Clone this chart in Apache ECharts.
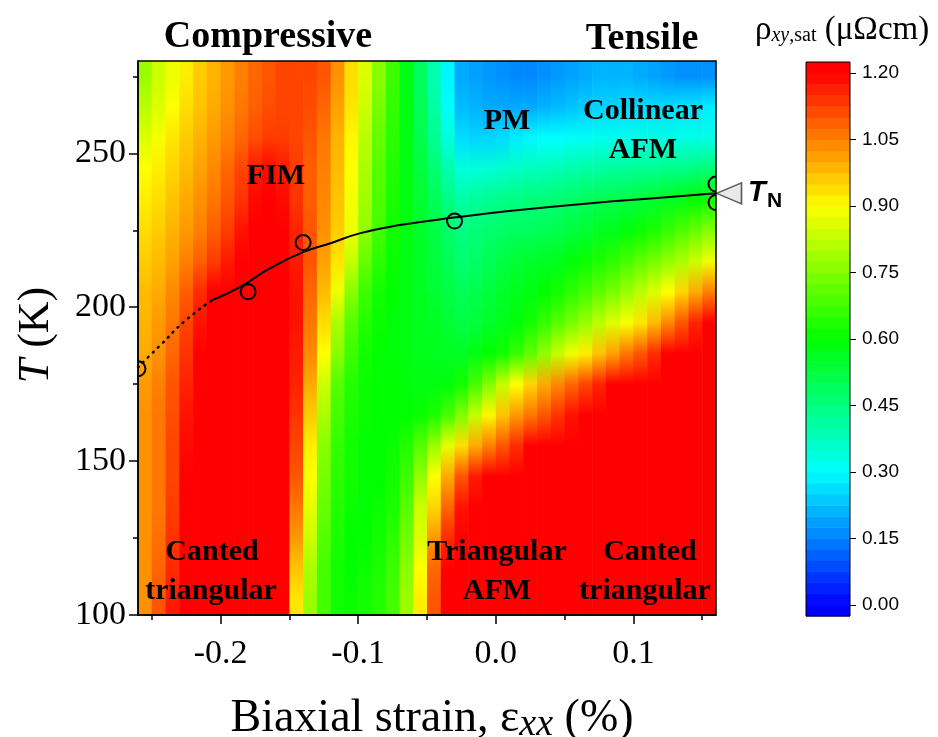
<!DOCTYPE html>
<html>
<head>
<meta charset="utf-8">
<script src="https://cdn.jsdelivr.net/npm/echarts@6/dist/echarts.min.js"></script>
<style>
html, body { margin: 0; padding: 0; background: #fff; }
#chart { width: 938px; height: 737px; }
</style>
</head>
<body>
<div id="chart"></div>
<script>
// grid of the map: column centres (strain, %) and row centres (T, K)
var strains = [-0.255,-0.245,-0.235,-0.225,-0.215,-0.205,-0.195,-0.185,-0.175,-0.165,
               -0.155,-0.145,-0.135,-0.125,-0.115,-0.105,-0.095,-0.085,-0.075,-0.065,
               -0.055,-0.045,-0.035,-0.025,-0.015,-0.005,0.005,0.015,0.025,0.035,
               0.045,0.055,0.065,0.075,0.085,0.095,0.105,0.115,0.125,0.135,
               0.145,0.155];
var temps = [105,115,125,135,145,155,165,175,185,195,205,215,225,235,245,255,265,275];

// rho_xy,sat (uOhm cm), one row per temperature, bottom to top
var rhoRows = [
  // 105 K
  [1.03,1.10,1.17,1.22,1.25,1.25,1.25,1.25,1.25,1.25, 1.20,0.93,0.78,0.68,0.62,0.61,0.62,0.64,0.68,0.78,
   0.92,1.10,1.22,1.25,1.25,1.25,1.25,1.25,1.25,1.25, 1.25,1.25,1.25,1.25,1.25,1.25,1.25,1.25,1.25,1.25, 1.25,1.25],
  // 115 K
  [1.03,1.08,1.15,1.21,1.25,1.25,1.25,1.25,1.25,1.25, 1.20,0.97,0.80,0.68,0.62,0.60,0.61,0.63,0.67,0.76,
   0.90,1.08,1.20,1.25,1.25,1.25,1.25,1.25,1.25,1.25, 1.25,1.25,1.25,1.25,1.25,1.25,1.25,1.25,1.25,1.25, 1.25,1.25],
  // 125 K
  [1.03,1.07,1.14,1.20,1.25,1.25,1.25,1.25,1.25,1.25, 1.22,1.02,0.84,0.70,0.63,0.60,0.60,0.62,0.65,0.73,
   0.86,1.02,1.15,1.22,1.25,1.25,1.25,1.25,1.25,1.25, 1.25,1.25,1.25,1.25,1.25,1.25,1.25,1.25,1.25,1.25, 1.25,1.25],
  // 135 K
  [1.03,1.06,1.13,1.20,1.25,1.25,1.25,1.25,1.25,1.25, 1.23,1.06,0.87,0.72,0.64,0.61,0.60,0.61,0.63,0.70,
   0.84,0.95,1.08,1.18,1.23,1.25,1.25,1.25,1.25,1.25, 1.25,1.25,1.25,1.25,1.25,1.25,1.25,1.25,1.25,1.25, 1.25,1.25],
  // 145 K
  [1.03,1.06,1.12,1.20,1.25,1.25,1.25,1.25,1.25,1.25, 1.24,1.10,0.90,0.74,0.65,0.62,0.60,0.60,0.62,0.67,
   0.77,0.90,1.00,1.10,1.17,1.22,1.25,1.25,1.25,1.25, 1.25,1.25,1.25,1.25,1.25,1.25,1.25,1.25,1.25,1.25, 1.25,1.25],
  // 155 K
  [1.03,1.06,1.12,1.19,1.24,1.25,1.25,1.25,1.25,1.25, 1.24,1.12,0.92,0.76,0.66,0.62,0.60,0.60,0.61,0.64,
   0.70,0.78,0.87,0.94,1.00,1.05,1.10,1.15,1.20,1.25, 1.25,1.25,1.25,1.25,1.25,1.25,1.25,1.25,1.25,1.25, 1.25,1.25],
  // 165 K
  [1.03,1.06,1.11,1.18,1.23,1.25,1.25,1.25,1.25,1.25, 1.24,1.14,0.96,0.80,0.68,0.63,0.61,0.60,0.60,0.60,
   0.61,0.63,0.68,0.75,0.83,0.91,0.97,1.02,1.06,1.10, 1.14,1.18,1.22,1.25,1.25,1.25,1.25,1.25,1.25,1.25, 1.25,1.25],
  // 175 K
  [1.02,1.05,1.10,1.16,1.22,1.25,1.25,1.25,1.25,1.25, 1.24,1.16,1.00,0.84,0.70,0.64,0.61,0.60,0.60,0.59,
   0.58,0.58,0.59,0.62,0.68,0.75,0.83,0.90,0.95,1.00, 1.04,1.08,1.12,1.16,1.20,1.23,1.25,1.25,1.25,1.25, 1.25,1.25],
  // 185 K
  [1.00,1.03,1.08,1.14,1.20,1.25,1.25,1.25,1.25,1.25, 1.24,1.17,1.04,0.90,0.76,0.67,0.62,0.60,0.59,0.58,
   0.57,0.57,0.56,0.56,0.58,0.60,0.62,0.66,0.71,0.77, 0.83,0.88,0.92,0.97,1.01,1.06,1.10,1.15,1.20,1.25, 1.25,1.25],
  // 195 K
  [0.99,1.02,1.06,1.12,1.18,1.23,1.25,1.25,1.25,1.25, 1.24,1.18,1.06,0.94,0.80,0.70,0.64,0.61,0.59,0.58,
   0.57,0.56,0.54,0.52,0.53,0.55,0.57,0.59,0.62,0.66, 0.70,0.74,0.78,0.82,0.86,0.89,0.93,0.98,1.04,1.10, 1.16,1.21],
  // 205 K
  [0.98,1.00,1.04,1.09,1.15,1.20,1.23,1.25,1.25,1.25, 1.25,1.18,1.08,0.98,0.88,0.76,0.67,0.62,0.60,0.58,
   0.56,0.54,0.52,0.50,0.51,0.53,0.55,0.57,0.58,0.60, 0.62,0.65,0.68,0.71,0.74,0.78,0.82,0.86,0.90,0.95, 1.00,1.05],
  // 215 K
  [0.96,0.98,1.01,1.05,1.09,1.13,1.17,1.21,1.24,1.25, 1.23,1.17,1.10,1.01,0.93,0.83,0.72,0.65,0.61,0.58,
   0.56,0.53,0.50,0.47,0.48,0.50,0.52,0.54,0.55,0.56, 0.57,0.59,0.61,0.63,0.65,0.68,0.71,0.74,0.77,0.80, 0.84,0.88],
  // 225 K
  [0.94,0.96,0.99,1.02,1.05,1.09,1.13,1.18,1.23,1.25, 1.22,1.16,1.10,1.03,0.96,0.88,0.77,0.68,0.62,0.58,
   0.55,0.52,0.48,0.45,0.46,0.47,0.48,0.49,0.49,0.50, 0.51,0.53,0.54,0.56,0.57,0.59,0.61,0.63,0.66,0.69, 0.72,0.75],
  // 235 K
  [0.92,0.94,0.97,1.00,1.03,1.06,1.10,1.14,1.19,1.22, 1.19,1.14,1.09,1.04,0.97,0.89,0.79,0.69,0.63,0.58,
   0.54,0.50,0.45,0.41,0.42,0.43,0.44,0.45,0.46,0.46, 0.47,0.48,0.49,0.50,0.51,0.52,0.53,0.55,0.56,0.58, 0.60,0.62],
  // 245 K
  [0.90,0.92,0.95,0.98,1.01,1.04,1.08,1.12,1.17,1.19, 1.17,1.13,1.09,1.05,0.98,0.90,0.80,0.70,0.64,0.58,
   0.53,0.47,0.40,0.34,0.34,0.35,0.36,0.37,0.38,0.38, 0.39,0.40,0.41,0.41,0.42,0.42,0.43,0.43,0.44,0.44, 0.45,0.46],
  // 255 K
  [0.86,0.89,0.93,0.96,0.99,1.02,1.05,1.08,1.11,1.13, 1.13,1.12,1.10,1.06,0.99,0.91,0.82,0.72,0.65,0.58,
   0.51,0.43,0.34,0.26,0.25,0.25,0.26,0.28,0.29,0.30, 0.30,0.31,0.31,0.32,0.32,0.32,0.33,0.33,0.33,0.33, 0.33,0.33],
  // 265 K
  [0.82,0.86,0.90,0.94,0.97,1.00,1.03,1.06,1.09,1.11, 1.12,1.12,1.11,1.08,1.01,0.93,0.84,0.74,0.66,0.58,
   0.50,0.41,0.31,0.22,0.21,0.20,0.20,0.20,0.20,0.21, 0.22,0.23,0.24,0.25,0.25,0.26,0.26,0.26,0.26,0.27, 0.27,0.28],
  // 275 K
  [0.78,0.84,0.88,0.92,0.96,0.99,1.02,1.05,1.08,1.10, 1.12,1.12,1.12,1.10,1.03,0.94,0.86,0.76,0.67,0.58,
   0.49,0.39,0.29,0.20,0.19,0.18,0.17,0.16,0.16,0.17, 0.18,0.19,0.20,0.21,0.21,0.21,0.20,0.19,0.18,0.17, 0.17,0.17]
];

// T_N line (solid part) and its dotted extrapolation
var tnStrain = [-0.206,-0.186,-0.164,-0.14,-0.12,-0.099,-0.071,-0.029,0.013,0.069,0.124,0.16];
var tnTemp   = [202.3,206.5,212.7,217.9,220.8,224,226.6,229.2,231.4,233.8,235.7,237];
var dotStrain = [-0.26,-0.243,-0.226,-0.206];
var dotTemp   = [180.5,188,195.5,202.3];

// measured T_N points (open circles)
var ptStrain = [-0.26,-0.18,-0.14,-0.03,0.16,0.16];
var ptTemp   = [180,205,221,228,240,234];

// tick labels
var xMajor = [-0.2,-0.1,0,0.1];
var xMinor = [-0.25,-0.15,-0.05,0.05,0.15];
var yMajor = [100,150,200,250];
var yMinor = [125,175,225,275];
var cbTicks = [0,0.15,0.3,0.45,0.6,0.75,0.9,1.05,1.2];
// colour scale levels
var cbEdges = [-0.025,0,0.025,0.05,0.075,0.1,0.125,0.15,0.175,0.2,0.225,0.25,0.275,0.3,0.325,0.35,
  0.375,0.4,0.425,0.45,0.475,0.5,0.525,0.55,0.575,0.6,0.625,0.65,0.675,0.7,0.725,0.75,0.775,0.8,
  0.825,0.85,0.875,0.9,0.925,0.95,0.975,1,1.025,1.05,1.075,1.1,1.125,1.15,1.175,1.2,1.225];

var rainbow = ['#0000ff','#0080ff','#00ffff','#00ff80','#00ff00','#80ff00','#ffff00','#ff8000','#ff0000'];
var vMin = 0, vMax = 1.2;
var tMin = 100, tMax = 280;

function colorOf(v) {
  var f = (v - vMin) / (vMax - vMin);
  return echarts.color.lerp(Math.max(0, Math.min(1, f)), rainbow);
}

// one stripe per strain column; its colour runs through the measured values of that column
var columnData = strains.map(function (s, i) { return [s, i]; });
var halfW = (strains[1] - strains[0]) / 2;

var bandData = [];
for (var k = 0; k < cbEdges.length - 1; k++) {
  bandData.push([cbEdges[k], cbEdges[k + 1]]);
}

function zip(a, b) {
  return a.map(function (v, i) { return [v, b[i]]; });
}

var serif = 'Liberation Serif';
var sans = 'Liberation Sans';

function txt(text, x, y, size) {
  return {
    type: 'text', x: x, y: y, z: 30,
    style: {
      text: text, fill: '#000', fontFamily: serif, fontSize: size, fontWeight: 'bold',
      align: 'center', verticalAlign: 'middle', textAlign: 'center', textVerticalAlign: 'middle'
    }
  };
}

var myChart = echarts.init(document.getElementById('chart'));

var axisLine = { show: true, onZero: false, lineStyle: { color: '#000', width: 1.5 } };
var noLine = { show: false, onZero: false };
var tickStyle = { color: '#000', width: 1.5 };

myChart.setOption({
  animation: false,
  backgroundColor: '#fff',
  grid: [
    { left: 138, top: 61, width: 578, height: 554, show: true, z: 10,
      borderColor: '#000', borderWidth: 1.5, backgroundColor: 'transparent' },
    { left: 806, top: 62, width: 44, height: 554, show: true, z: 10,
      borderColor: '#000', borderWidth: 1, backgroundColor: 'transparent' }
  ],
  xAxis: [
    { gridIndex: 0, type: 'value', min: -0.26, max: 0.16, position: 'bottom', z: 5,
      axisLine: axisLine,
      axisTick: { show: true, customValues: xMajor, length: 9, lineStyle: tickStyle },
      axisLabel: { customValues: xMajor, color: '#000', fontFamily: serif, fontSize: 34, margin: 22,
        formatter: function (v) { return v.toFixed(1); } },
      splitLine: { show: false } },
    { gridIndex: 0, type: 'value', min: -0.26, max: 0.16, position: 'bottom', z: 5,
      axisLine: noLine,
      axisTick: { show: true, customValues: xMinor, length: 5, lineStyle: tickStyle },
      axisLabel: { show: false }, splitLine: { show: false } },
    { gridIndex: 1, type: 'value', min: 0, max: 1, show: false, axisLine: noLine }
  ],
  yAxis: [
    { gridIndex: 0, type: 'value', min: tMin, max: tMax, position: 'left', z: 5,
      axisLine: axisLine,
      axisTick: { show: true, customValues: yMajor, length: 9, lineStyle: tickStyle },
      axisLabel: { customValues: yMajor, color: '#000', fontFamily: serif, fontSize: 34, margin: 12 },
      splitLine: { show: false } },
    { gridIndex: 0, type: 'value', min: tMin, max: tMax, position: 'left', z: 5,
      axisLine: noLine,
      axisTick: { show: true, customValues: yMinor, length: 5, lineStyle: tickStyle },
      axisLabel: { show: false }, splitLine: { show: false } },
    { gridIndex: 1, type: 'value', min: -0.025, max: 1.225, position: 'right', z: 5,
      axisLine: noLine,
      axisTick: { show: true, customValues: cbTicks, length: 6, lineStyle: { color: '#000', width: 1 } },
      axisLabel: { customValues: cbTicks, color: '#000', fontFamily: sans, fontSize: 19, margin: 12,
        formatter: function (v) { return v.toFixed(2); } },
      splitLine: { show: false } }
  ],
  series: [
    { type: 'custom', xAxisIndex: 0, yAxisIndex: 0, z: 1, clip: true, silent: true,
      data: columnData,
      renderItem: function (params, api) {
        var s = api.value(0), i = api.value(1);
        var p0 = api.coord([s - halfW, tMax]);
        var p1 = api.coord([s + halfW, tMin]);
        var stops = temps.map(function (t, j) {
          return { offset: (tMax - t) / (tMax - tMin), color: colorOf(rhoRows[j][i]) };
        }).reverse();
        return { type: 'rect',
          shape: { x: p0[0], y: p0[1], width: p1[0] - p0[0] + 0.6, height: p1[1] - p0[1] },
          style: { fill: new echarts.graphic.LinearGradient(0, 0, 0, 1, stops) } };
      } },
    { type: 'line', xAxisIndex: 0, yAxisIndex: 0, z: 3, smooth: true, symbol: 'none',
      data: zip(dotStrain, dotTemp),
      lineStyle: { color: '#000', width: 2.5, type: [1, 6], cap: 'round' } },
    { type: 'line', xAxisIndex: 0, yAxisIndex: 0, z: 3, smooth: true, symbol: 'none',
      data: zip(tnStrain, tnTemp),
      lineStyle: { color: '#000', width: 2 } },
    { type: 'custom', xAxisIndex: 0, yAxisIndex: 0, z: 4, clip: true,
      data: zip(ptStrain, ptTemp),
      renderItem: function (params, api) {
        var p = api.coord([api.value(0), api.value(1)]);
        return { type: 'circle', shape: { cx: p[0], cy: p[1], r: 7.5 },
          style: { fill: 'none', stroke: '#000', lineWidth: 2 } };
      } },
    { type: 'scatter', xAxisIndex: 0, yAxisIndex: 0, z: 4, clip: false,
      data: [[tnStrain[tnStrain.length - 1], tnTemp[tnTemp.length - 1]]],
      symbol: 'path://M0,5L10,0L10,10Z', symbolSize: [25, 21], symbolOffset: [13, 0],
      itemStyle: { color: '#e4e4e4', borderColor: '#333', borderWidth: 1.5 } },
    { type: 'custom', xAxisIndex: 2, yAxisIndex: 2, z: 2, silent: true,
      data: bandData,
      renderItem: function (params, api) {
        var lo = api.value(0), hi = api.value(1);
        var p0 = api.coord([0, hi]);
        var p1 = api.coord([1, lo]);
        return { type: 'rect',
          shape: { x: p0[0], y: p0[1], width: p1[0] - p0[0], height: p1[1] - p0[1] + 0.5 },
          style: { fill: colorOf((lo + hi) / 2) } };
      } }
  ],
  graphic: [
    txt('Compressive', 268, 37, 38),
    txt('Tensile', 642, 39, 38),
    txt('FIM', 276, 176, 30),
    txt('PM', 507, 121, 30),
    txt('Collinear', 643, 111, 30),
    txt('AFM', 643, 150, 30),
    txt('Canted', 212, 552, 30),
    txt('triangular', 211, 591, 30),
    txt('Triangular', 497, 552, 30),
    txt('AFM', 497, 591, 30),
    txt('Canted', 650, 552, 30),
    txt('triangular', 645, 591, 30),
    { type: 'text', x: 748, y: 193, z: 30,
      style: { text: 'T', fill: '#000', fontFamily: sans, fontStyle: 'italic', fontWeight: 'bold', fontSize: 29,
        align: 'left', verticalAlign: 'middle', textAlign: 'left', textVerticalAlign: 'middle' } },
    { type: 'text', x: 767, y: 201, z: 30,
      style: { text: 'N', fill: '#000', fontFamily: sans, fontWeight: 'bold', fontSize: 21,
        align: 'left', verticalAlign: 'middle', textAlign: 'left', textVerticalAlign: 'middle' } },
    { type: 'text', x: 432, y: 719, z: 30,
      style: { text: 'Biaxial strain, ε{s|xx} (%)', fill: '#000', fontFamily: serif, fontSize: 46,
        align: 'center', verticalAlign: 'middle', textAlign: 'center', textVerticalAlign: 'middle',
        rich: { s: { fontFamily: serif, fontStyle: 'italic', fontSize: 38, fill: '#000', color: '#000',
          padding: [12, 0, 0, 0] } } } },
    { type: 'text', x: 36, y: 335, z: 30, rotation: Math.PI / 2,
      style: { text: '{i|T} (K)', fill: '#000', fontFamily: serif, fontSize: 44,
        align: 'center', verticalAlign: 'middle', textAlign: 'center', textVerticalAlign: 'middle',
        rich: { i: { fontFamily: serif, fontStyle: 'italic', fontSize: 44, fill: '#000', color: '#000' } } } },
    { type: 'text', x: 755, y: 30, z: 30,
      style: { text: 'ρ{s|xy}{c|,sat} (μΩcm)', fill: '#000', fontFamily: serif, fontSize: 33,
        align: 'left', verticalAlign: 'middle', textAlign: 'left', textVerticalAlign: 'middle',
        rich: {
          s: { fontFamily: serif, fontStyle: 'italic', fontSize: 20, fill: '#000', color: '#000', padding: [12, 0, 0, 0] },
          c: { fontFamily: serif, fontSize: 20, fill: '#000', color: '#000', padding: [12, 0, 0, 0] }
        } } }
  ]
});
</script>
</body>
</html>
